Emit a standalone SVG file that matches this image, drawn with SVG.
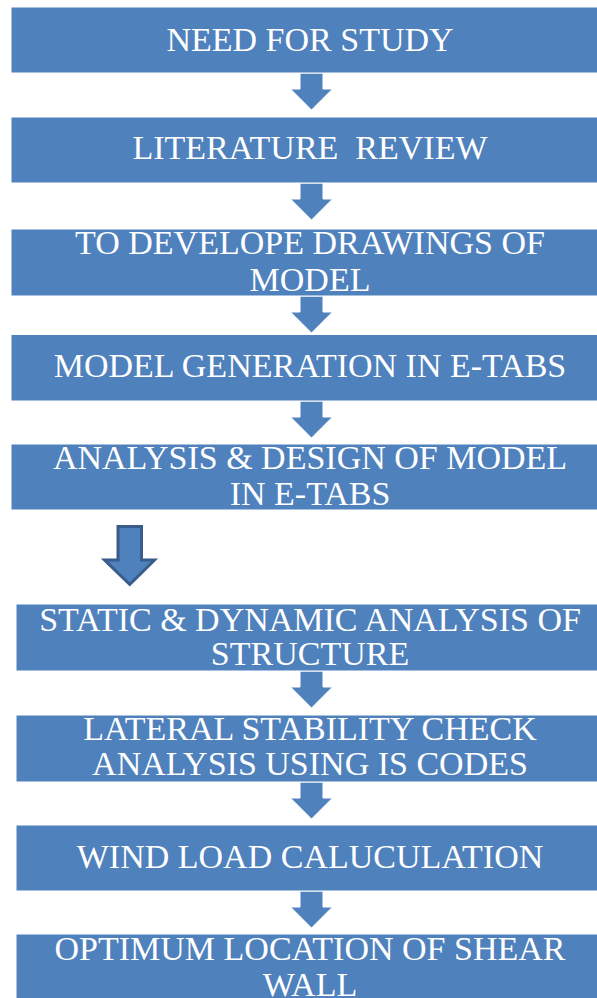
<svg xmlns="http://www.w3.org/2000/svg" width="597" height="998" viewBox="0 0 597 998">
  <style>
    .box { fill: #4f81bd; stroke: #ffffff; stroke-width: 1; }
    .arrow { fill: #4f81bd; stroke: #ffffff; stroke-width: 1; stroke-linejoin: miter; }
    .block-arrow { fill: #4f81bd; stroke: #385d8a; stroke-width: 3; stroke-linejoin: miter; }
    .label { font-family: "Liberation Serif", "Times New Roman", serif; font-size: 34px; fill: #ffffff; text-anchor: middle; white-space: pre; }
  </style>
  <defs>
    <!-- down arrow, origin at the top-centre of its shaft -->
    <path id="down" d="M-11.5,0 H11.5 V16 H21 L0,37 L-21,16 H-11.5 Z"/>
  </defs>
  <rect width="597" height="998" fill="#ffffff"/>

  <g id="connectors">
    <use href="#down" class="arrow" x="311.5" y="73"/>
    <use href="#down" class="arrow" x="311.5" y="183"/>
    <use href="#down" class="arrow" x="311.5" y="296"/>
    <use href="#down" class="arrow" x="311.5" y="401"/>
    <path class="block-arrow" d="M118,526.5 H141.5 V560 H154.5 L129.75,584.5 L104.5,560 H118 Z"/>
    <use href="#down" class="arrow" x="311.5" y="671"/>
    <use href="#down" class="arrow" x="311.5" y="782"/>
    <use href="#down" class="arrow" x="311.5" y="891"/>
  </g>

  <g id="need-for-study">
    <rect class="box" x="11" y="7" width="598" height="66"/>
    <text class="label" x="310" y="51">NEED FOR STUDY</text>
  </g>

  <g id="literature-review">
    <rect class="box" x="11" y="117" width="598" height="66"/>
    <text class="label" x="310" y="159">LITERATURE  REVIEW</text>
  </g>

  <g id="develop-drawings">
    <rect class="box" x="11" y="229" width="598" height="67"/>
    <text class="label" x="310" y="254">TO DEVELOPE DRAWINGS OF</text>
    <text class="label" x="310" y="291">MODEL</text>
  </g>

  <g id="model-generation">
    <rect class="box" x="11" y="334.5" width="598" height="66.5"/>
    <text class="label" x="310" y="377">MODEL GENERATION IN E-TABS</text>
  </g>

  <g id="analysis-design">
    <rect class="box" x="11" y="444" width="598" height="66"/>
    <text class="label" x="310" y="469">ANALYSIS &amp; DESIGN OF MODEL</text>
    <text class="label" x="310" y="505">IN E-TABS</text>
  </g>

  <g id="static-dynamic">
    <rect class="box" x="16" y="604" width="593" height="67"/>
    <text class="label" x="310" y="631">STATIC &amp; DYNAMIC ANALYSIS OF</text>
    <text class="label" x="310" y="665">STRUCTURE</text>
  </g>

  <g id="lateral-stability">
    <rect class="box" x="16" y="715" width="593" height="67"/>
    <text class="label" x="310" y="740">LATERAL STABILITY CHECK</text>
    <text class="label" x="310" y="775">ANALYSIS USING IS CODES</text>
  </g>

  <g id="wind-load">
    <rect class="box" x="16" y="825" width="593" height="66"/>
    <text class="label" x="310" y="868">WIND LOAD CALUCULATION</text>
  </g>

  <g id="shear-wall">
    <rect class="box" x="16" y="934" width="593" height="80"/>
    <text class="label" x="310" y="960">OPTIMUM LOCATION OF SHEAR</text>
    <text class="label" x="310" y="996">WALL</text>
  </g>
</svg>
